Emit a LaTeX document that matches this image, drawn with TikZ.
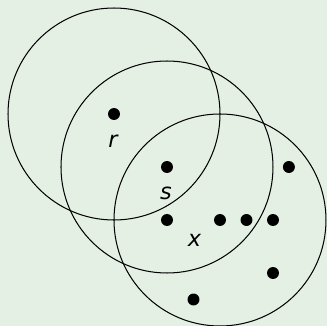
\documentclass[tikz,border=0pt]{standalone}
\usepackage{fontspec}
\setmainfont{DejaVu Sans}
\definecolor{bg}{RGB}{229,240,228}
\begin{document}
\begin{tikzpicture}[x=1cm,y=-1cm,
  ring/.style={draw=black,line width=0.55pt},
  pt/.style={circle,fill=black,inner sep=0pt,minimum size=0.226cm},
  lbl/.style={font=\fontsize{12}{14}\selectfont\itshape,inner sep=0pt}]
\fill[bg] (-2.151,-2.151) rectangle (4.019,4.0);
\useasboundingbox (-2.151,-2.151) rectangle (4.019,4.0);
\coordinate (c1) at (0,0);
\coordinate (c2) at (1,1);
\coordinate (c3) at (2,2);
\draw[ring] (c1) circle (2);
\draw[ring] (c2) circle (2);
\draw[ring] (c3) circle (2);
\node[pt] (r) at (0,0) {};
\node[pt] (s) at (1,1) {};
\node[pt] (x) at (1,2) {};
\node[pt] (p1) at (2,2) {};
\node[pt] (p2) at (2.5,2) {};
\node[pt] (p3) at (3,2) {};
\node[pt] (p4) at (3.3,1) {};
\node[pt] (p5) at (3,3) {};
\node[pt] (p6) at (1.5,3.5) {};
\node[lbl] (rl) at (-0.02,0.52) {r};
\node[lbl] (sl) at (0.98,1.5) {s};
\node[lbl] (xl) at (1.52,2.38) {x};
\end{tikzpicture}
\end{document}
